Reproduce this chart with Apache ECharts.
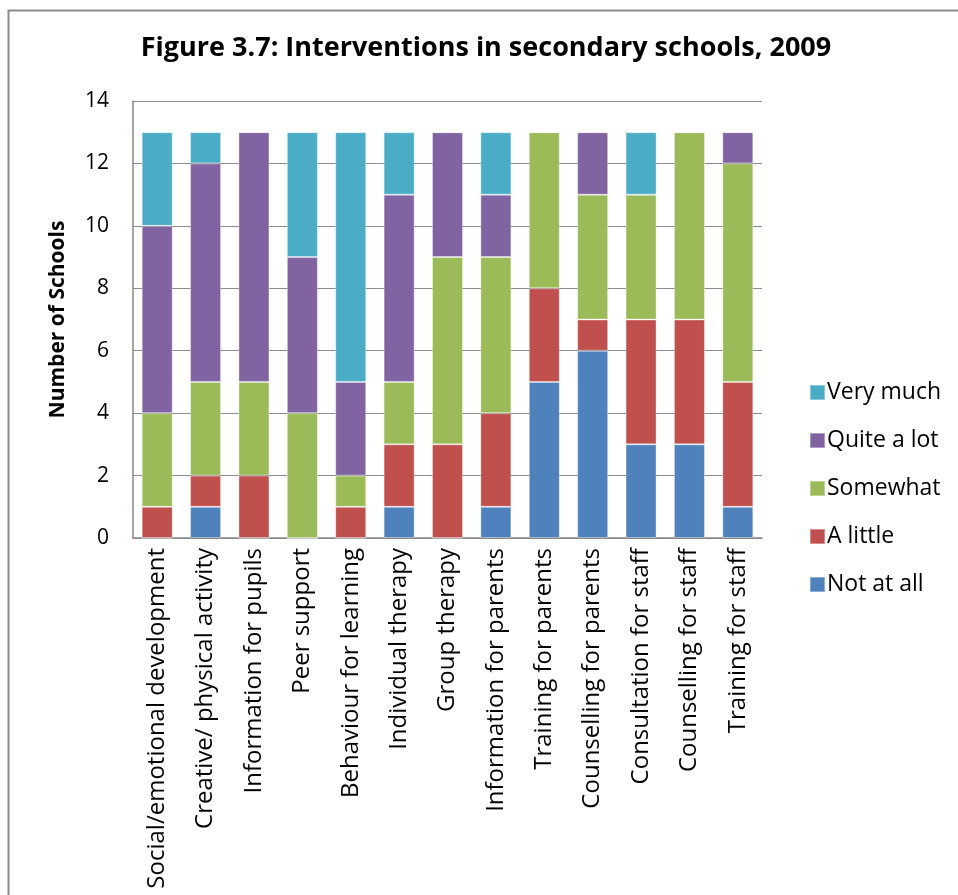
<!DOCTYPE html>
<html>
<head>
<meta charset="utf-8">
<script src="https://cdn.jsdelivr.net/npm/echarts@6/dist/echarts.min.js"></script>
<style>
html,body{margin:0;padding:0;background:#fff;}
#chart{width:958px;height:895px;}
</style>
</head>
<body>
<div id="chart"></div>
<script>
const categories = [
  "Social/emotional development",
  "Creative/ physical activity",
  "Information for pupils",
  "Peer support",
  "Behaviour for learning",
  "Individual therapy",
  "Group therapy",
  "Information for parents",
  "Training for parents",
  "Counselling for parents",
  "Consultation for staff",
  "Counselling for staff",
  "Training for staff"
];
const notAtAll  = [0, 1, 0, 0, 0, 1, 0, 1, 5, 6, 3, 3, 1];
const aLittle   = [1, 1, 2, 0, 1, 2, 3, 3, 3, 1, 4, 4, 4];
const somewhat  = [3, 3, 3, 4, 1, 2, 6, 5, 5, 4, 4, 6, 7];
const quiteALot = [6, 7, 8, 5, 3, 6, 4, 2, 0, 2, 0, 0, 1];
const veryMuch  = [3, 1, 0, 4, 8, 2, 0, 2, 0, 0, 2, 0, 0];
const yTicks = [0, 2, 4, 6, 8, 10, 12, 14];

const FONT = "'Open Sans', Lato, sans-serif";
const seriesDefs = [
  {name: "Not at all", data: notAtAll, color: "#4F81BD"},
  {name: "A little", data: aLittle, color: "#C0504D"},
  {name: "Somewhat", data: somewhat, color: "#9BBB59"},
  {name: "Quite a lot", data: quiteALot, color: "#8064A2"},
  {name: "Very much", data: veryMuch, color: "#4BACC6"}
];

const chart = echarts.init(document.getElementById('chart'), null, {renderer: 'canvas'});
chart.setOption({
  animation: false,
  backgroundColor: '#fff',
  graphic: [{
    type: 'rect', left: 6, top: 8,
    shape: {width: 1000, height: 1000},
    style: {fill: 'none', stroke: '#8a8a8a', lineWidth: 2},
    silent: true
  }],
  title: {
    text: "Figure 3.7: Interventions in secondary schools, 2009",
    left: 481, top: 30, textAlign: 'center',
    textStyle: {fontFamily: FONT, fontSize: 27, fontWeight: 'bold', color: '#000'}
  },
  legend: {
    orient: 'vertical',
    left: 804, top: 376,
    itemWidth: 15, itemHeight: 15, itemGap: 25,
    icon: 'rect',
    data: ["Very much", "Quite a lot", "Somewhat", "A little", "Not at all"],
    textStyle: {fontFamily: FONT, fontSize: 23, color: '#000', padding: [0, 0, 0, -3]}
  },
  grid: {left: 133, right: 196, top: 101, bottom: 357, containLabel: false},
  xAxis: {
    type: 'category',
    data: categories,
    axisLine: {lineStyle: {color: '#888', width: 1.5}},
    axisTick: {show: false},
    axisLabel: {
      rotate: 90, interval: 0, margin: 10,
      fontFamily: FONT, fontSize: 24, color: '#000'
    }
  },
  yAxis: {
    type: 'value',
    min: yTicks[0], max: yTicks[yTicks.length - 1], interval: 2,
    name: "Number of Schools",
    nameLocation: 'middle', nameGap: 64, nameRotate: 90,
    nameTextStyle: {fontFamily: FONT, fontSize: 21, fontWeight: 'bold', color: '#000'},
    axisLine: {show: true, lineStyle: {color: '#888', width: 1.5}},
    axisTick: {show: false},
    axisLabel: {margin: 24, fontFamily: FONT, fontSize: 21, color: '#000'},
    splitLine: {lineStyle: {color: '#8c8c8c', width: 1.2}}
  },
  series: seriesDefs.map(s => ({
    name: s.name,
    type: 'bar',
    stack: 'total',
    barWidth: 31,
    data: s.data,
    itemStyle: {color: s.color, borderColor: 'rgba(255,255,255,0.35)', borderWidth: 1}
  }))
});
</script>
</body>
</html>
